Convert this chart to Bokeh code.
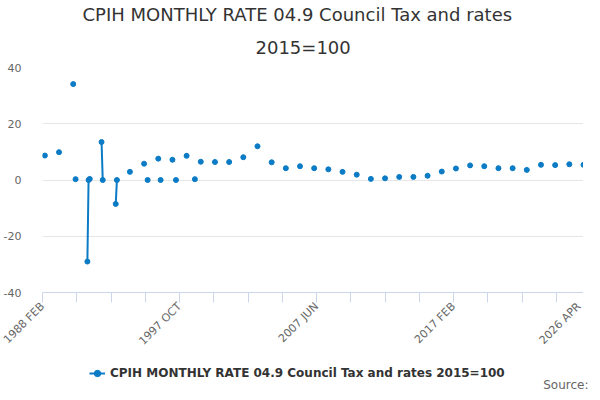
import math
import numpy as np
from bokeh.plotting import figure
from bokeh.layouts import column
from bokeh.models import (Range1d, FixedTicker, Legend, LegendItem, Title, Label,
                          ColumnDataSource)
from bokeh.embed import file_html
from bokeh.resources import INLINE

MONTH_NAMES = ["JAN", "FEB", "MAR", "APR", "MAY", "JUN",
               "JUL", "AUG", "SEP", "OCT", "NOV", "DEC"]

# monthly categories 1988 FEB .. 2026 APR
categories = []
yy, mm = 1988, 2
while (yy, mm) <= (2026, 4):
    categories.append(f"{yy} {MONTH_NAMES[mm - 1]}")
    mm += 1
    if mm > 12:
        mm = 1
        yy += 1

# months that carry a value (all others are empty)
point_months = [
    "1988 APR", "1989 APR", "1990 APR", "1990 JUN",
    "1991 APR", "1991 MAY", "1991 JUN",
    "1992 APR", "1992 MAY", "1993 APR", "1993 MAY",
    "1994 APR", "1995 APR", "1995 JUL", "1996 APR", "1996 JUN",
    "1997 APR", "1997 JUL", "1998 APR", "1998 NOV",
    "1999 APR", "2000 APR", "2001 APR", "2002 APR", "2003 APR",
    "2004 APR", "2005 APR", "2006 APR", "2007 APR", "2008 APR",
    "2009 APR", "2010 APR", "2011 APR", "2012 APR", "2013 APR",
    "2014 APR", "2015 APR", "2016 APR", "2017 APR", "2018 APR",
    "2019 APR", "2020 APR", "2021 APR", "2022 APR", "2023 APR",
    "2024 APR", "2025 APR", "2026 APR",
]
point_values = [
    8.7, 9.9, 34.1, 0.3,
    -29.0, 0.0, 0.4,
    13.5, 0.0, -8.5, 0.0,
    2.9, 5.8, 0.0, 7.6, 0.0,
    7.2, 0.0, 8.6, 0.3,
    6.5, 6.4, 6.4, 8.1, 12.0,
    6.3, 4.2, 4.9, 4.2, 3.8,
    2.9, 1.9, 0.4, 0.6, 1.1,
    1.1, 1.5, 3.0, 4.1, 5.2,
    4.9, 4.2, 4.2, 3.6, 5.4,
    5.3, 5.6, 5.4,
]
x_tick_labels = ["1988 FEB", "1997 OCT", "2007 JUN", "2017 FEB", "2026 APR"]
y_ticks = [-40, -20, 0, 20, 40]
series_name = "CPIH MONTHLY RATE 04.9 Council Tax and rates 2015=100"
title_lines = ["CPIH MONTHLY RATE 04.9 Council Tax and rates", "2015=100"]
source_text = "Source:"

n = len(categories)
values = np.full(n, np.nan)
for mo, v in zip(point_months, point_values):
    values[categories.index(mo)] = v
xs = np.arange(n)
src = ColumnDataSource(dict(x=xs, y=values, cat=categories))

BLUE = "#0a7bc4"
FONT = "DejaVu Sans"

p = figure(frame_width=541, frame_height=225, title=None,
           min_border_left=0, min_border_right=0,
           min_border_top=0, min_border_bottom=0,
           x_range=Range1d(0, n - 1), y_range=Range1d(-40, 40),
           output_backend="svg", toolbar_location=None)
p.outline_line_color = None
p.background_fill_color = "white"
p.border_fill_color = "white"

# title: two lines (added innermost first)
title_offsets = [213, 40]
for i, line in enumerate(reversed(title_lines)):
    t = Title(text=line, align="left", text_font=FONT, text_font_size="18px",
              text_font_style="normal", text_color="#333333",
              offset=title_offsets[i], standoff=(19 if i == 0 else 2))
    p.add_layout(t, "above")

ln = p.line("x", "y", source=src, line_color=BLUE, line_width=2)
sc = p.scatter("x", "y", source=src, size=5, fill_color=BLUE, line_color=BLUE)

# x axis
tick_pos = list(range(0, n, 29))
if tick_pos[-1] != n - 1:
    tick_pos.append(n - 1)
overrides = {t: "" for t in tick_pos}
for lab in x_tick_labels:
    overrides[categories.index(lab)] = lab
p.xaxis.ticker = FixedTicker(ticks=tick_pos, minor_ticks=[])
p.xaxis.major_label_overrides = overrides
p.xaxis.major_label_orientation = math.pi / 4
p.xaxis.axis_line_color = "#ccd6eb"
p.xaxis.major_tick_line_color = "#ccd6eb"
p.xaxis.major_tick_out = 10
p.xaxis.major_tick_in = 0
p.xaxis.minor_tick_line_color = None
p.xaxis.major_label_text_font = FONT
p.xaxis.major_label_text_font_size = "11px"
p.xaxis.major_label_text_color = "#666666"
p.xaxis.major_label_standoff = 2

# y axis
p.yaxis.ticker = FixedTicker(ticks=y_ticks, minor_ticks=[])
p.yaxis.major_label_overrides = {t: str(t) for t in y_ticks}
p.yaxis.axis_line_color = None
p.yaxis.major_tick_line_color = None
p.yaxis.minor_tick_line_color = None
p.yaxis.major_label_text_font = FONT
p.yaxis.major_label_text_font_size = "11px"
p.yaxis.major_label_text_color = "#666666"
p.yaxis.major_label_standoff = 15

p.xgrid.grid_line_color = None
p.ygrid.grid_line_color = "#e6e6e6"
p.ygrid.grid_line_width = 1

# legend strip (second figure, no axes; its frame is aligned with the chart's)
q = figure(width=592, height=37, title=None,
           min_border_left=0, min_border_right=0,
           min_border_top=0, min_border_bottom=0,
           x_axis_location=None, y_axis_location=None,
           x_range=Range1d(0, n - 1), y_range=Range1d(1000, 1001),
           output_backend="svg", toolbar_location=None)
q.outline_line_color = None
q.grid.grid_line_color = None
lq = q.line("x", "y", source=src, line_color=BLUE, line_width=2)
sq = q.scatter("x", "y", source=src, size=5, fill_color=BLUE, line_color=BLUE)
legend = Legend(items=[LegendItem(label=series_name, renderers=[lq, sq])],
                location=(47, 10), orientation="horizontal",
                label_text_font=FONT, label_text_font_size="12px",
                label_text_font_style="bold", label_text_color="#333333",
                glyph_width=16, glyph_height=18, label_height=18,
                label_standoff=5, padding=0, margin=0,
                border_line_color=None, background_fill_alpha=0)
q.add_layout(legend, "center")
q.add_layout(Label(x=546, y=8, x_units="screen", y_units="screen",
                   text=source_text, text_align="right", text_baseline="middle",
                   text_font=FONT, text_font_size="12px", text_color="#666666"))

layout = column(p, q, spacing=0)
open("out.html", "w").write(file_html(layout, INLINE))
